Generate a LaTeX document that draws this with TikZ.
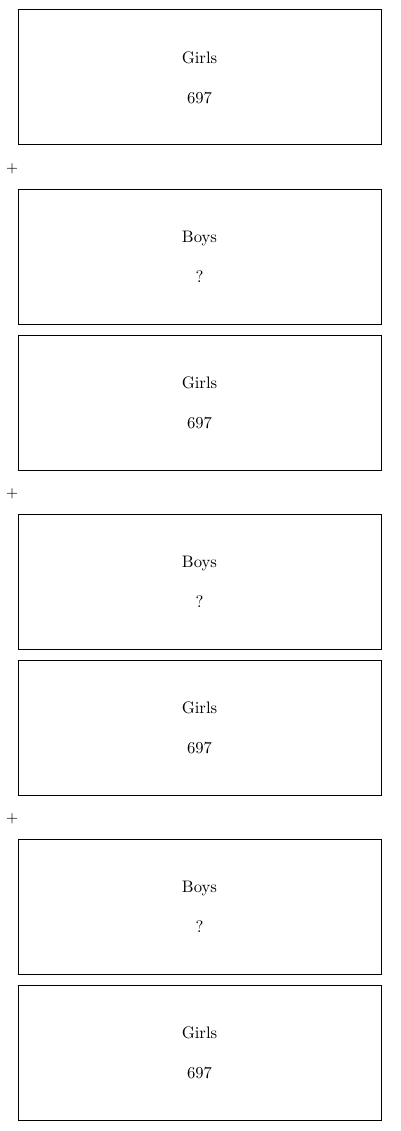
\documentclass[tikz,border=0pt]{standalone}
\usepackage{tikz}

\begin{document}
\begin{tikzpicture}[x=0.6pt,y=-0.6pt]

    \useasboundingbox (0,0) rectangle (400,1131);

        \begin{scope}[every node/.style={draw,line width=0.6pt,minimum width=217.8pt,minimum height=81pt,inner sep=0pt,align=center}]
            \node (g1) at (199.5,77.5) {Girls\\[12pt]697};
            \node (b1) at (199.5,256.5) {Boys\\[12pt]?};
            \node (g2) at (199.5,402.5) {Girls\\[12pt]697};
            \node (b2) at (199.5,581.5) {Boys\\[12pt]?};
            \node (g3) at (199.5,727.5) {Girls\\[12pt]697};
            \node (b3) at (199.5,906.5) {Boys\\[12pt]?};
            \node (g4) at (199.5,1052.5) {Girls\\[12pt]697};
        \end{scope}

        \begin{scope}[every node/.style={font=\sffamily\small,inner sep=0pt}]
            \node (p1) at (12,169) {+};
            \node (p2) at (12,494) {+};
            \node (p3) at (12,819) {+};
        \end{scope}

\end{tikzpicture}
\end{document}
